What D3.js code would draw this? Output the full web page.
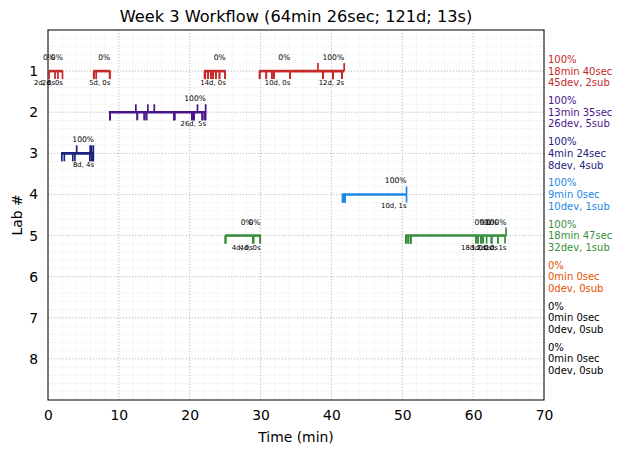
<!DOCTYPE html>
<html>
<head>
<meta charset="utf-8">
<script src="https://cdn.jsdelivr.net/npm/d3@7"></script>
<style>
  body { margin: 0; background: #fff; }
  text { font-family: "DejaVu Sans", sans-serif; }
</style>
</head>
<body>
<script>
// labs and their colours
const labs = [1, 2, 3, 4, 5, 6, 7, 8];
const labColors = ["#c62828", "#4a148c", "#1a237e", "#1e88e5", "#388e3c", "#e65100", "#000000", "#000000"];

// per-lab summary on the right
const labPct = ["100%", "100%", "100%", "100%", "100%", "0%", "0%", "0%"];
const labTime = ["18min 40sec", "13min 35sec", "4min 24sec", "9min 0sec", "18min 47sec", "0min 0sec", "0min 0sec", "0min 0sec"];
const labDevSub = ["45dev, 2sub", "26dev, 5sub", "8dev, 4sub", "10dev, 1sub", "32dev, 1sub", "0dev, 0sub", "0dev, 0sub", "0dev, 0sub"];

// work segments: [lab, start (min), end (min), percent label, devs, subs]
const segments = [
    [1, 0.1, 1.0, "0%", 2, 0],
    [1, 1.0, 2.1, "0%", 2, 0],
    [1, 6.4, 8.8, "0%", 5, 0],
    [1, 22.0, 25.1, "0%", 14, 0],
    [1, 29.8, 34.2, "0%", 10, 0],
    [1, 34.2, 41.8, "100%", 12, 2],
    [2, 8.6, 22.3, "100%", 26, 5],
    [3, 1.85, 6.5, "100%", 8, 4],
    [4, 41.45, 50.6, "100%", 10, 1],
    [5, 25.0, 28.9, "0%", 4, 0],
    [5, 28.9, 30.0, "0%", 4, 0],
    [5, 50.4, 61.9, "0%", 18, 0],
    [5, 61.9, 62.6, "0%", 3, 0],
    [5, 62.6, 63.5, "0%", 2, 0],
    [5, 63.5, 64.7, "100%", 1, 1]
];

// dev runs (down ticks) per lab, minutes
const devTimes = [
    [0.15, 1.0, 1.4, 2.05, 6.45, 6.5, 6.8, 8.7, 8.75,
     22.1, 22.2, 22.6, 22.6, 23.0, 23.0, 23.3, 23.3, 23.7, 23.7, 24.2, 24.2, 25.0, 25.0,
     29.85, 29.9, 30.8, 30.8, 31.6, 31.6, 31.9, 31.9, 34.15, 34.15,
     38.8, 38.8, 38.8, 38.8, 40.2, 40.2, 40.2, 40.2, 41.5, 41.5, 41.5, 41.5],
    [8.75, 8.75, 8.75, 12.6, 12.6, 13.6, 13.6, 13.9, 13.9, 17.8, 17.8, 17.8, 17.9,
     20.3, 20.3, 20.3, 20.6, 20.6, 20.6, 21.8, 21.8, 21.8, 22.2, 22.2, 22.2, 22.2],
    [1.95, 2.3, 3.5, 3.8, 5.9, 6.1, 6.3, 6.4],
    [41.6, 41.6, 41.6, 41.6, 41.6, 41.9, 41.9, 41.9, 41.9, 50.6],
    [25.05, 25.05, 25.05, 28.9, 29.0, 29.0, 29.95, 29.95,
     50.5, 50.5, 50.5, 50.85, 50.85, 50.85, 51.2, 51.2, 51.2,
     60.4, 60.4, 60.7, 60.7, 61.1, 61.1, 61.4, 61.4, 61.9,
     62.6, 62.6, 62.6, 63.5, 63.5, 64.5],
    [], [], []
];

// submissions (up ticks) per lab, minutes
const subTimes = [
    [38.1, 41.8],
    [12.4, 14.1, 15.0, 21.1, 22.25],
    [4.05, 5.95, 6.15, 6.4],
    [50.6],
    [64.65],
    [], [], []
];

const xTicks = [0, 10, 20, 30, 40, 50, 60, 70];

const W = 630, H = 453;
const margin = { top: 30, right: 86, bottom: 53, left: 48 };

const svg = d3.select("body").append("svg")
    .attr("width", W)
    .attr("height", H);

const x = d3.scaleLinear().domain([0, 70]).range([margin.left, W - margin.right]);
const y = d3.scaleLinear().domain([0, 9]).range([margin.top, H - margin.bottom]);

// minor grid
svg.append("g")
    .selectAll("line")
    .data(d3.range(0, 70.01, 2))
    .enter().append("line")
    .attr("x1", d => x(d)).attr("x2", d => x(d))
    .attr("y1", y(0)).attr("y2", y(9))
    .attr("stroke", "#f4f4f4").attr("stroke-width", 0.8);

svg.append("g")
    .selectAll("line")
    .data(d3.range(0, 9.01, 0.2))
    .enter().append("line")
    .attr("y1", d => y(d)).attr("y2", d => y(d))
    .attr("x1", x(0)).attr("x2", x(70))
    .attr("stroke", "#f4f4f4").attr("stroke-width", 0.8);

// major grid
svg.append("g")
    .selectAll("line")
    .data(xTicks)
    .enter().append("line")
    .attr("x1", d => x(d)).attr("x2", d => x(d))
    .attr("y1", y(0)).attr("y2", y(9))
    .attr("stroke", "#b0b0b0").attr("stroke-width", 0.8)
    .attr("stroke-dasharray", "1,2");

svg.append("g")
    .selectAll("line")
    .data(labs)
    .enter().append("line")
    .attr("y1", d => y(d)).attr("y2", d => y(d))
    .attr("x1", x(0)).attr("x2", x(70))
    .attr("stroke", "#b0b0b0").attr("stroke-width", 0.8)
    .attr("stroke-dasharray", "1,2");

// axes
const xAxis = svg.append("g")
    .attr("transform", "translate(0," + y(9) + ")")
    .call(d3.axisBottom(x).tickValues(xTicks).tickSize(0).tickPadding(10));

const yAxis = svg.append("g")
    .attr("transform", "translate(" + x(0) + ",0)")
    .call(d3.axisLeft(y).tickValues(labs).tickSize(0).tickPadding(10));

[xAxis, yAxis].forEach(a => {
    a.select(".domain").remove();
    a.selectAll("text")
        .style("font-family", "DejaVu Sans")
        .style("font-size", "13.9px")
        .attr("fill", "#000");
});

// frame
svg.append("rect")
    .attr("x", x(0)).attr("y", y(0))
    .attr("width", x(70) - x(0)).attr("height", y(9) - y(0))
    .attr("fill", "none").attr("stroke", "#000").attr("stroke-width", 1);

// segments
const plot = svg.append("g");

plot.selectAll(".seg")
    .data(segments)
    .enter().append("line")
    .attr("class", "seg")
    .attr("x1", d => x(d[1])).attr("x2", d => x(d[2]))
    .attr("y1", d => y(d[0])).attr("y2", d => y(d[0]))
    .attr("stroke", d => labColors[d[0] - 1])
    .attr("stroke-width", 2.6);

// dev ticks (down) and submission ticks (up)
labs.forEach((lab, i) => {
    plot.append("g").selectAll("line")
        .data(devTimes[i])
        .enter().append("line")
        .attr("x1", d => x(d)).attr("x2", d => x(d))
        .attr("y1", y(lab)).attr("y2", y(lab) + 8)
        .attr("stroke", labColors[i]).attr("stroke-width", 1.7);

    plot.append("g").selectAll("line")
        .data(subTimes[i])
        .enter().append("line")
        .attr("x1", d => x(d)).attr("x2", d => x(d))
        .attr("y1", y(lab)).attr("y2", y(lab) - 8)
        .attr("stroke", labColors[i]).attr("stroke-width", 1.7);
});

// segment labels
plot.selectAll(".pct")
    .data(segments)
    .enter().append("text")
    .attr("x", d => x(d[2]))
    .attr("y", d => y(d[0]) - 11)
    .attr("text-anchor", "end")
    .style("font-size", "7.6px")
    .attr("fill", "#000")
    .text(d => d[3]);

plot.selectAll(".cnt")
    .data(segments)
    .enter().append("text")
    .attr("x", d => x(d[2]))
    .attr("y", d => y(d[0]) + 14)
    .attr("text-anchor", "end")
    .style("font-size", "6.9px")
    .attr("fill", "#000")
    .text(d => d[4] + "d, " + d[5] + "s");

// summaries on the right
const summary = svg.append("g");
labs.forEach((lab, i) => {
    const t = summary.append("text")
        .attr("x", x(70) + 4)
        .attr("y", y(lab) + 3.6 - 11.6)
        .style("font-size", "10px")
        .attr("fill", labColors[i]);
    [labPct[i], labTime[i], labDevSub[i]].forEach((s, k) => {
        t.append("tspan")
            .attr("x", x(70) + 4)
            .attr("dy", k === 0 ? 0 : 11.6)
            .text(s);
    });
});

// title and axis labels
svg.append("text")
    .attr("x", (x(0) + x(70)) / 2)
    .attr("y", 22)
    .attr("text-anchor", "middle")
    .style("font-size", "16.2px")
    .text("Week 3 Workflow (64min 26sec; 121d; 13s)");

svg.append("text")
    .attr("x", (x(0) + x(70)) / 2)
    .attr("y", 442)
    .attr("text-anchor", "middle")
    .style("font-size", "13.9px")
    .text("Time (min)");

svg.append("text")
    .attr("transform", "rotate(-90)")
    .attr("x", -(y(0) + y(9)) / 2)
    .attr("y", 22)
    .attr("text-anchor", "middle")
    .style("font-size", "13.9px")
    .text("Lab #");
</script>
</body>
</html>
